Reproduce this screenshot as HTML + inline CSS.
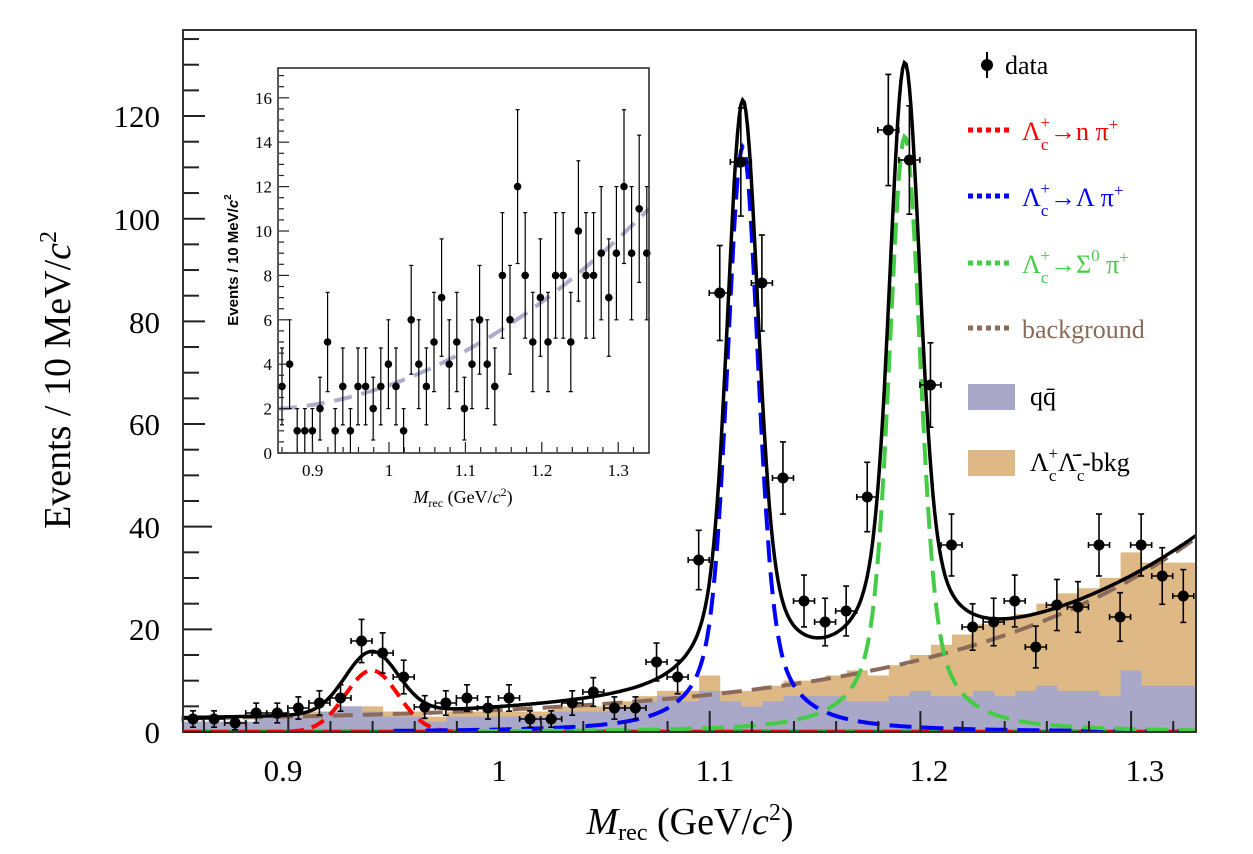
<!DOCTYPE html>
<html><head><meta charset="utf-8"><style>
html,body{margin:0;padding:0;background:#fff;}
svg{display:block;font-family:"Liberation Serif",serif;}
</style></head><body>
<svg id="s" width="1253" height="854" viewBox="0 0 1253 854" xmlns="http://www.w3.org/2000/svg">
<defs><clipPath id="cm"><rect x="183" y="30" width="1013" height="702"/></clipPath>
<clipPath id="ci"><rect x="278" y="68" width="371" height="385"/></clipPath></defs>
<g id="hist" clip-path="url(#cm)"></g>
<g id="curves" clip-path="url(#cm)"></g>
<g id="data"></g>
<rect x="183" y="30" width="1013" height="702" fill="none" stroke="#333" stroke-width="2"/>
<g id="axes"></g>
<g id="inset"></g>
<g font-size="31" fill="#000" text-anchor="middle">
<text x="283" y="781">0.9</text><text x="499" y="781">1</text><text x="715" y="781">1.1</text><text x="929" y="781">1.2</text><text x="1145" y="781">1.3</text>
</g>
<g font-size="31" fill="#000" text-anchor="end">
<text x="160" y="743">0</text><text x="160" y="640">20</text><text x="160" y="538">40</text><text x="160" y="435">60</text><text x="160" y="333">80</text><text x="160" y="230">100</text><text x="160" y="127">120</text>
</g>
<text x="690" y="834" font-size="38" text-anchor="middle"><tspan font-style="italic">M</tspan><tspan font-size="24" dy="6">rec</tspan><tspan dy="-6"> (GeV/</tspan><tspan font-style="italic">c</tspan><tspan font-size="24" dy="-14">2</tspan><tspan dy="14">)</tspan></text>
<text transform="translate(70,380) rotate(-90)" font-size="38" text-anchor="middle">Events / 10 MeV/<tspan font-style="italic">c</tspan><tspan font-size="24" dy="-14">2</tspan></text>
<g font-size="26">
<line x1="987" y1="52" x2="987" y2="78" stroke="#000" stroke-width="2"/><circle cx="987" cy="65" r="6"/>
<text x="1005" y="74">data</text>
<line x1="968" y1="130" x2="1010" y2="130" stroke="#f00" stroke-width="5" stroke-dasharray="5 4"/>
<text x="1022" y="140" fill="#f00">Λ<tspan font-size="17" dy="10">c</tspan><tspan font-size="17" dx="-8" dy="-22">+</tspan><tspan dy="12">→n π</tspan><tspan font-size="17" dy="-10">+</tspan></text>
<line x1="968" y1="196" x2="1010" y2="196" stroke="#00f" stroke-width="5" stroke-dasharray="5 4"/>
<text x="1022" y="206" fill="#00f">Λ<tspan font-size="17" dy="10">c</tspan><tspan font-size="17" dx="-8" dy="-22">+</tspan><tspan dy="12">→Λ π</tspan><tspan font-size="17" dy="-10">+</tspan></text>
<line x1="968" y1="263" x2="1010" y2="263" stroke="#44cc44" stroke-width="5" stroke-dasharray="5 4"/>
<text x="1022" y="273" fill="#44cc44">Λ<tspan font-size="17" dy="10">c</tspan><tspan font-size="17" dx="-8" dy="-22">+</tspan><tspan dy="12">→Σ</tspan><tspan font-size="17" dy="-12">0</tspan><tspan dy="12"> π</tspan><tspan font-size="17" dy="-10">+</tspan></text>
<line x1="968" y1="328" x2="1010" y2="328" stroke="#8a6a58" stroke-width="5" stroke-dasharray="5 4"/>
<text x="1022" y="338" fill="#8a6a58">background</text>
<rect x="968" y="384" width="47" height="26" fill="#aaa8c8"/>
<text x="1030" y="405">qq̄</text>
<rect x="968" y="450" width="47" height="26" fill="#dfb985"/>
<text x="1030" y="471">Λ<tspan font-size="17" dy="10">c</tspan><tspan font-size="17" dx="-8" dy="-22">+</tspan><tspan dy="12">Λ̄</tspan><tspan font-size="17" dy="10">c</tspan><tspan font-size="17" dx="-8" dy="-22">-</tspan><tspan dy="12">-bkg</tspan></text>
</g>
</svg>
<script>
var NS="http://www.w3.org/2000/svg";
function el(p,t,a){var e=document.createElementNS(NS,t);for(var k in a)e.setAttribute(k,a[k]);p.appendChild(e);return e;}
function X(x){return 499+(x-1)*2107;}
function Y(y){return 732-y*5.133;}
var H=document.getElementById('hist'),C=document.getElementById('curves'),D=document.getElementById('data'),A=document.getElementById('axes'),I=document.getElementById('inset');
var qq=[2,2,2,2,3,3,3,4,5,4,3,3,2,3,3,3,3,3,4,4,4,5,6,7,6,8,6,5,6,7,7,7,6,6,7,8,7,7,8,7,8,9,8,8,7,12,9,9,9];
var tot=[2,2,2,2,3,3,4,4,5,5,4,4,3,4,4,4,4,4,5,5,5,6,7,8,8,11,8,8,9,10,10,11,12,11,13,15,17,19,21,22,23,25,27,28,30,35,33,33,33];
function step(arr,col){var d="M"+X(0.845)+","+Y(0);for(var i=0;i<arr.length;i++){var x0=0.845+0.01*i;d+=" L"+X(x0)+","+Y(arr[i])+" L"+X(x0+0.01)+","+Y(arr[i]);}d+=" L"+X(0.845+0.01*arr.length)+","+Y(0)+"Z";el(H,'path',{d:d,fill:col});}
step(tot,'#dfb985');step(qq,'#aaa8c8');
function pk(x,m,A){var d=x-m;var g=Math.exp(-0.5*d*d/(0.0068*0.0068));var l=1/(1+d*d/(0.012*0.012));return A*(0.6*g+0.4*l);}
function red(x){return 12*Math.exp(-0.5*Math.pow((x-0.9396)/0.0125,2));}
function blue(x){return pk(x,1.1157,114);}
function green(x){return pk(x,1.1926,116);}
function bkg(x){return 2+0.719*Math.exp(8.3*(x-0.86));}
function tot2(x){return red(x)+blue(x)+green(x)+bkg(x);}
function curve(f,col,w,dash,par,x0,x1,Xf,Yf){var d="";for(var x=x0;x<=x1+1e-9;x+=0.0008){d+=(d?" L":"M")+Xf(x).toFixed(1)+","+Yf(f(x)).toFixed(1);}var a={d:d,fill:'none',stroke:col,'stroke-width':w};if(dash)a['stroke-dasharray']=dash;el(par,'path',a);}
el(C,'line',{x1:183,y1:731,x2:1196,y2:731,stroke:'#2a9a2a','stroke-width':3});
el(C,'line',{x1:183,y1:732,x2:1196,y2:732,stroke:'#dd1111','stroke-width':4,'stroke-dasharray':'18 10'});
curve(bkg,'#8a6a58',4,'20 10',C,0.85,1.335,X,Y);
curve(red,'#f00',4,'14 8',C,0.88,1.0,X,Y);
curve(blue,'#00f',4,'22 10',C,0.95,1.335,X,Y);
curve(green,'#44cc44',4,'22 10',C,0.99,1.335,X,Y);
curve(tot2,'#000',3.5,null,C,0.85,1.335,X,Y);
var py=[719,719,723,713,713,708,703,698,641,653,677,707,703,698,708,698,719,719,703,692,708,708,662,677,560,293,162,283,478,601,622,611,497,130,160,385,545,627,622,601,647,605,607,545,617,545,576,596];
for(var i=0;i<py.length;i++){var px=193+i*21.07;var n=Math.max(0.5,(732-py[i])/5.133);var e=Math.sqrt(n)*5.133;var t=Math.max(py[i]-e,31),b=Math.min(py[i]+e,732);
el(D,'line',{x1:px,y1:t,x2:px,y2:b,stroke:'#000','stroke-width':1.6});el(D,'line',{x1:px-3,y1:t,x2:px+3,y2:t,stroke:'#000','stroke-width':1.6});
if(b<731)el(D,'line',{x1:px-3,y1:b,x2:px+3,y2:b,stroke:'#000','stroke-width':1.6});
el(D,'line',{x1:px-10.5,y1:py[i],x2:px+10.5,y2:py[i],stroke:'#000','stroke-width':1.6});
el(D,'line',{x1:px-10.5,y1:py[i]-3,x2:px-10.5,y2:py[i]+3,stroke:'#000','stroke-width':1.6});el(D,'line',{x1:px+10.5,y1:py[i]-3,x2:px+10.5,y2:py[i]+3,stroke:'#000','stroke-width':1.6});
el(D,'circle',{cx:px,cy:py[i],r:5.5,fill:'#000'});}
for(var k=0;k<=140;k+=5){var y=Y(k);if(y<31)break;var L=(k%20==0)?28:15;el(A,'line',{x1:184,y1:y,x2:184+L,y2:y,stroke:'#222','stroke-width':2});}
for(var k=0;k<=24;k++){var x=0.86+0.02*k;var xx=X(x);if(xx>1195)break;var maj=Math.abs((x*10)-Math.round(x*10))<1e-6;el(A,'line',{x1:xx,y1:731,x2:xx,y2:731-(maj?20:10),stroke:'#222','stroke-width':2});}
function IX(x){return 389+(x-1)*764;}function IY(y){return 453-y*22.2;}
el(I,'rect',{x:205,y:60,width:460,height:445,fill:'#fff'});
var g=el(I,'g',{'clip-path':'url(#ci)'});
curve(function(x){var u=x-0.86;return 2+2.9*u+33*u*u;},'#aeaccc',4,'18 10',g,0.856,1.34,IX,IY);
var iv=[3,4,1,1,1,2,5,1,3,1,3,3,2,3,4,3,1,6,4,3,5,7,4,5,2,4,6,4,3,8,6,12,8,5,7,5,8,8,5,10,8,8,9,7,9,12,9,11,9];
for(var i=0;i<iv.length;i++){var px=282+i*7.6,y=IY(iv[i]),e=Math.sqrt(iv[i])*22.2;
el(I,'line',{x1:px,y1:y-e,x2:px,y2:Math.min(y+e,453),stroke:'#000','stroke-width':1.2});
el(I,'line',{x1:px-2,y1:y-e,x2:px+2,y2:y-e,stroke:'#000','stroke-width':1.2});
if(y+e<452)el(I,'line',{x1:px-2,y1:y+e,x2:px+2,y2:y+e,stroke:'#000','stroke-width':1.2});
el(I,'circle',{cx:px,cy:y,r:3.8,fill:'#000'});}
el(I,'rect',{x:278,y:68,width:371,height:385,fill:'none',stroke:'#222','stroke-width':1.5});
for(var k=0;k<=17;k+=0.5){var y=IY(k);if(y<69)break;var L=(k%2==0)?10:5;el(I,'line',{x1:279,y1:y,x2:279+L,y2:y,stroke:'#222','stroke-width':1.2});
if(k%2==0){var t=el(I,'text',{x:272,y:y+6,'font-size':17,'text-anchor':'end'});t.textContent=k;}}
for(var k=0;k<=30;k++){var x=0.86+0.02*k;var xx=IX(x);if(xx>648)break;var maj=Math.abs((x*10)-Math.round(x*10))<1e-6;el(I,'line',{x1:xx,y1:452,x2:xx,y2:452-(maj?10:5),stroke:'#222','stroke-width':1.2});}
var labs=[["0.9",0.9],["1",1.0],["1.1",1.1],["1.2",1.2],["1.3",1.3]];
labs.forEach(function(l){var t=el(I,'text',{x:IX(l[1]),y:476,'font-size':17,'text-anchor':'middle'});t.textContent=l[0];});
var tx=el(I,'text',{x:463,y:503,'font-size':18,'text-anchor':'middle'});
tx.innerHTML='<tspan font-style="italic">M</tspan><tspan font-size="12" dy="4">rec</tspan><tspan dy="-4"> (GeV/</tspan><tspan font-style="italic">c</tspan><tspan font-size="12" dy="-7">2</tspan><tspan dy="7">)</tspan>';
var ty=el(I,'text',{transform:'translate(238,260) rotate(-90)','font-size':15,'font-weight':'bold','text-anchor':'middle','font-family':'Liberation Sans, sans-serif'});
ty.innerHTML='Events / 10 MeV/<tspan font-style="italic">c</tspan><tspan font-size="10" dy="-7">2</tspan>';
</script>
</body></html>
